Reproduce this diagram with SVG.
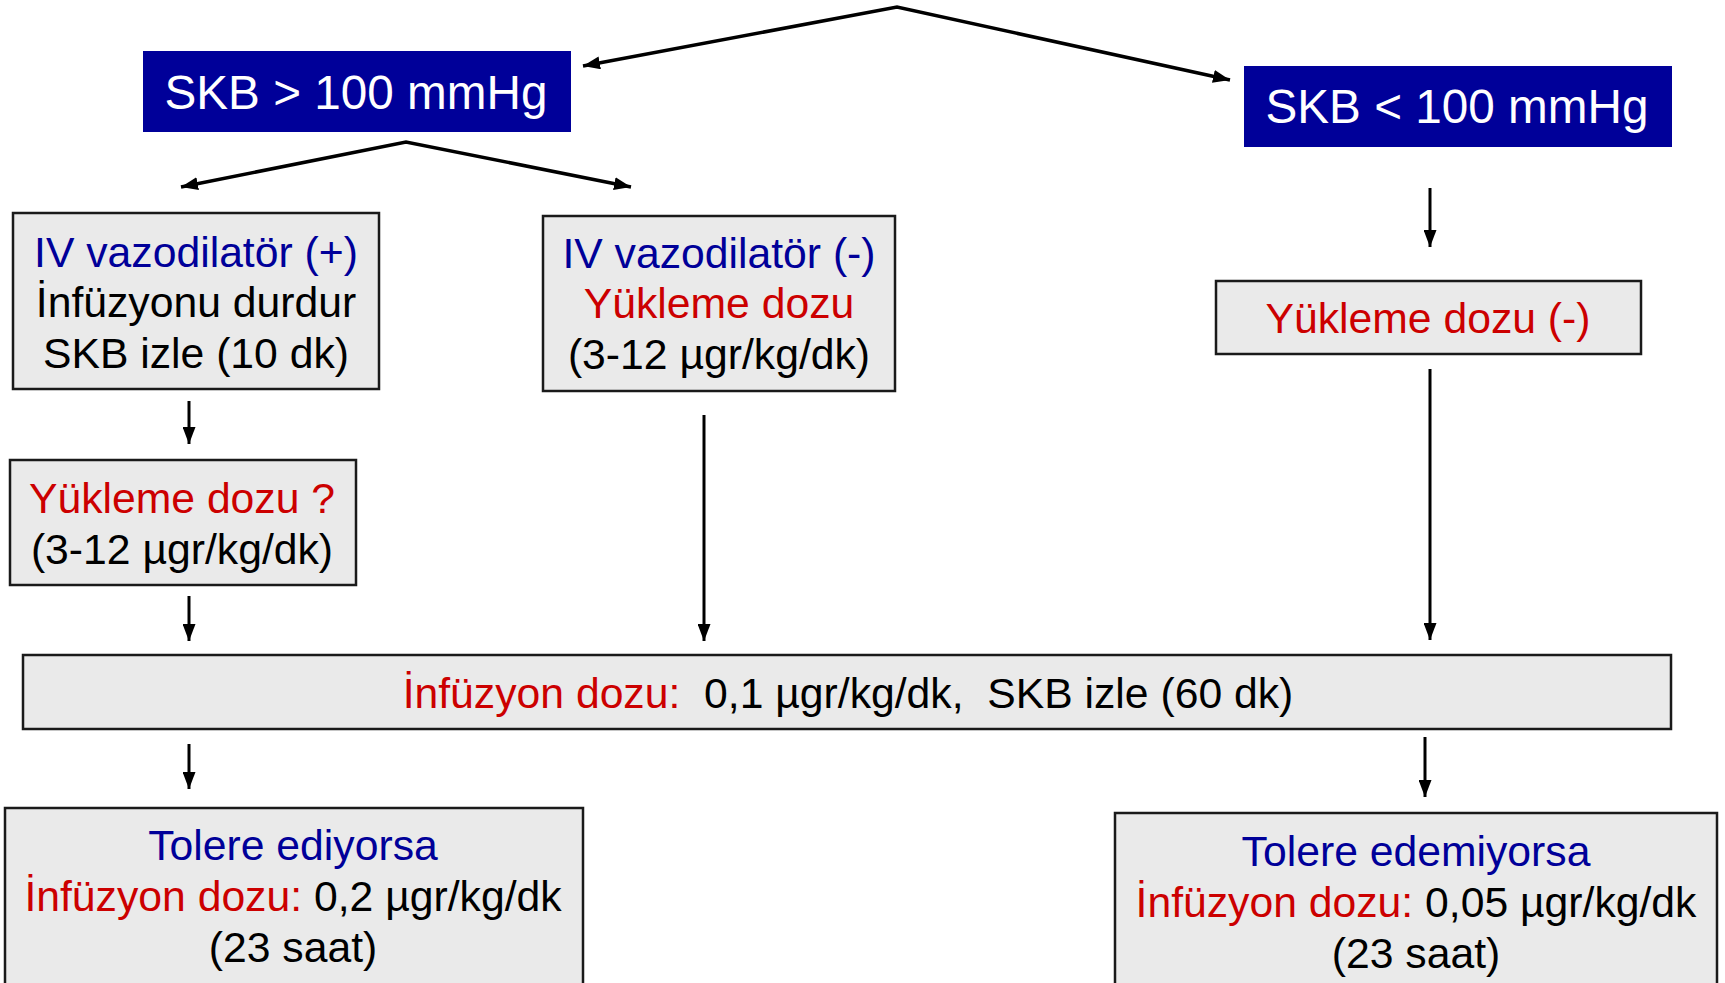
<svg xmlns="http://www.w3.org/2000/svg" width="1725" height="983" viewBox="0 0 1725 983">
<style>
text{font-family:"Liberation Sans",Arial,sans-serif;font-size:42.7px;text-anchor:middle;fill:#000}
.t{font-size:47.7px;fill:#fff}
.b{fill:#000099}
.r{fill:#cc0000}
.nav{fill:#000099}
.gb{fill:#eaeaea;stroke:#1a1a1a;stroke-width:2.5}
.c{fill:none;stroke:#000;stroke-width:3}
.f{fill:none;stroke:#000;stroke-width:3.5}
</style>
<defs>
<marker id="ah" markerUnits="userSpaceOnUse" viewBox="0 0 17 13" refX="17" refY="6.5" markerWidth="17" markerHeight="13" orient="auto-start-reverse">
<path d="M0,0 L17,6.5 L0,13 Z" fill="#000"/>
</marker>
</defs>
<rect width="1725" height="983" fill="#fff"/>
<g id="connectors">
<path class="f" d="M583,66 L897,7 L1230,80" marker-start="url(#ah)" marker-end="url(#ah)"/>
<path class="f" d="M181,187 L406,142 L631,187" marker-start="url(#ah)" marker-end="url(#ah)"/>
<line class="c" x1="189" y1="401" x2="189" y2="444" marker-end="url(#ah)"/>
<line class="c" x1="189" y1="596" x2="189" y2="641" marker-end="url(#ah)"/>
<line class="c" x1="704" y1="415" x2="704" y2="641" marker-end="url(#ah)"/>
<line class="c" x1="1430" y1="188" x2="1430" y2="247" marker-end="url(#ah)"/>
<line class="c" x1="1430" y1="369" x2="1430" y2="640" marker-end="url(#ah)"/>
<line class="c" x1="189" y1="744" x2="189" y2="789" marker-end="url(#ah)"/>
<line class="c" x1="1425" y1="737" x2="1425" y2="797" marker-end="url(#ah)"/>
</g>
<g id="skb-high">
<rect class="nav" x="143" y="51" width="428" height="81"/>
<text class="t" x="356" y="109">SKB &gt; 100 mmHg</text>
</g>
<g id="skb-low">
<rect class="nav" x="1244" y="66" width="428" height="81"/>
<text class="t" x="1457" y="123">SKB &lt; 100 mmHg</text>
</g>
<g id="iv-plus">
<rect class="gb" x="13" y="213" width="366" height="176"/>
<text class="b" x="196" y="267">IV vazodilatör (+)</text>
<text x="196" y="317">İnfüzyonu durdur</text>
<text x="196" y="368">SKB izle (10 dk)</text>
</g>
<g id="iv-minus">
<rect class="gb" x="543" y="216" width="352" height="175"/>
<text class="b" x="719" y="268">IV vazodilatör (-)</text>
<text class="r" x="719" y="318">Yükleme dozu</text>
<text x="719" y="369">(3-12 µgr/kg/dk)</text>
</g>
<g id="yukleme-q">
<rect class="gb" x="10" y="460" width="346" height="125"/>
<text class="r" x="182" y="513">Yükleme dozu ?</text>
<text x="182" y="564">(3-12 µgr/kg/dk)</text>
</g>
<g id="yukleme-none">
<rect class="gb" x="1216" y="281" width="425" height="73"/>
<text class="r" x="1428" y="333">Yükleme dozu (-)</text>
</g>
<g id="infuzyon">
<rect class="gb" x="23" y="655" width="1648" height="74"/>
<text x="848" y="708" xml:space="preserve"><tspan class="r">İnfüzyon dozu:</tspan>  0,1 µgr/kg/dk,  SKB izle (60 dk)</text>
</g>
<g id="tolere">
<rect class="gb" x="5" y="808" width="578" height="190"/>
<text class="b" x="293" y="860">Tolere ediyorsa</text>
<text x="293" y="911"><tspan class="r">İnfüzyon dozu:</tspan> 0,2 µgr/kg/dk</text>
<text x="293" y="962">(23 saat)</text>
</g>
<g id="tolere-edemiyor">
<rect class="gb" x="1115" y="813" width="602" height="190"/>
<text class="b" x="1416" y="866">Tolere edemiyorsa</text>
<text x="1416" y="917"><tspan class="r">İnfüzyon dozu:</tspan> 0,05 µgr/kg/dk</text>
<text x="1416" y="968">(23 saat)</text>
</g>
</svg>
